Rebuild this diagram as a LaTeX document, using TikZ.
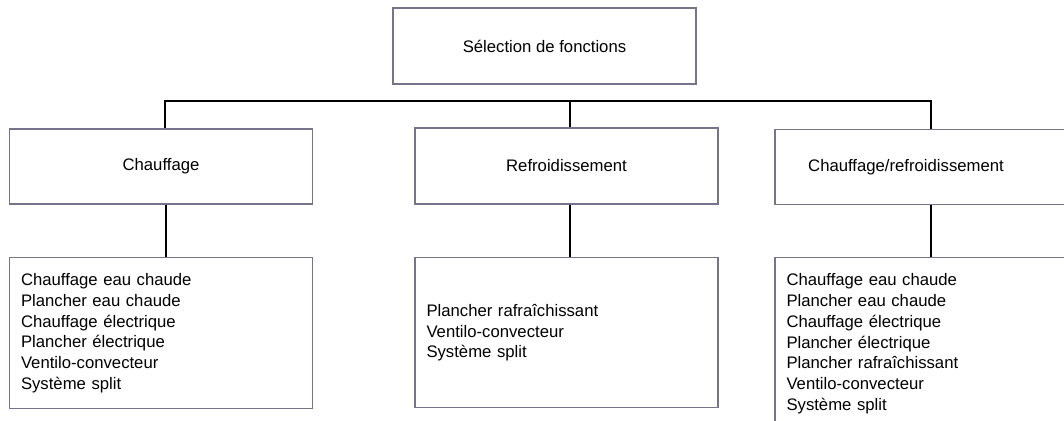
\documentclass[tikz,border=0pt]{standalone}
\usepackage{fontspec}
\setmainfont{Liberation Sans}
\definecolor{boxgray}{RGB}{118,116,138}
\begin{document}
\begin{tikzpicture}[x=1pt,y=-1pt,
  every node/.style={font=\fontsize{16.7}{20.8}\selectfont},
  box/.style={draw=boxgray, line width=1.4pt, fill=white, minimum width=303pt, minimum height=76pt, inner sep=0pt},
  listbox/.style={draw=boxgray, line width=1.4pt, fill=white, minimum width=303pt, text width=280pt, inner xsep=11.5pt, inner ysep=0pt, align=left},
  link/.style={draw=black, line width=1.5pt}]
\useasboundingbox (0,0) rectangle (1064,420);
\clip (0,0) rectangle (1064,420);
\fill[white] (0,0) rectangle (1064,420);
% top
\node[box] (top) at (544.5,46) {Sélection de fonctions};
% middle row
\node[box, minimum height=75pt] (lm) at (161,166.5) {Chauffage};
\node[box] (mm) at (566.5,166) {Refroidissement};
\node[box, minimum height=75pt, label={[xshift=-20.5pt]center:Chauffage/refroidissement}] (rm) at (926.5,167) {};
% bottom row
\node[listbox, minimum height=151pt, anchor=north] (lb) at (161,257) {Chauffage eau chaude\\Plancher eau chaude\\Chauffage électrique\\Plancher électrique\\Ventilo-convecteur\\Système split};
\node[listbox, minimum height=150pt, anchor=north] (mb) at (566.5,257) {Plancher rafraîchissant\\Ventilo-convecteur\\Système split};
\node[listbox, minimum height=172pt, anchor=north] (rb) at (926.5,257) {Chauffage eau chaude\\Plancher eau chaude\\Chauffage électrique\\Plancher électrique\\Plancher rafraîchissant\\Ventilo-convecteur\\Système split};
% connectors
\coordinate (busL) at (165,101);
\coordinate (busM) at (570,101);
\coordinate (busR) at (931,101);
\draw[link] ([xshift=4pt]lm.north) -- (busL) -- (busR) -- ([xshift=4.5pt]rm.north);
\draw[link] (busM) -- ([xshift=3.5pt]mm.north);
\draw[link] ([xshift=5pt]lm.south) -- ([xshift=5pt]lb.north);
\draw[link] ([xshift=3.5pt]mm.south) -- ([xshift=3.5pt]mb.north);
\draw[link] ([xshift=4.5pt]rm.south) -- ([xshift=4.5pt]rb.north);
\end{tikzpicture}
\end{document}
